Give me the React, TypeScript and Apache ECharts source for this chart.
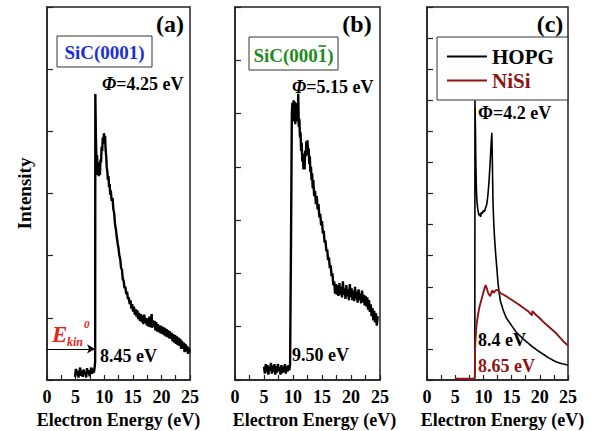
import React, { useEffect, useRef } from "react";
import * as echarts from "echarts";

const FONT = "Liberation Serif, Times New Roman, Times, serif";

// tick labels for the energy axes
const energyTicks = [0, 5, 10, 15, 20, 25];

// Panel (a) SiC(0001)
const energyA = [
  4.9, 5.05, 5.2, 5.35, 5.5, 5.65, 5.8, 5.95, 6.1, 6.25, 6.4, 6.55, 6.7, 6.85, 7.0, 7.15, 7.3, 7.45, 7.6, 7.75, 7.9, 8.05, 8.2, 8.35,
  8.42, 8.45, 8.55, 8.65, 8.75, 8.85, 8.95, 9.05, 9.15, 9.25, 9.35, 9.45, 9.55, 9.65, 9.75, 9.85, 9.95, 10.05, 10.15, 10.25, 10.35,
  10.45, 10.55, 10.65, 10.75, 10.85, 10.95, 11.05, 11.15, 11.3, 11.45, 11.6, 11.75, 11.9, 12.05, 12.2, 12.35, 12.5, 12.65, 12.8,
  12.95, 13.1, 13.25, 13.4, 13.55, 13.7, 13.85, 14.0, 14.15, 14.3, 14.45, 14.6, 14.75, 14.9, 15.05, 15.2, 15.35, 15.5, 15.65, 15.8,
  15.95, 16.1, 16.25, 16.4, 16.55, 16.7, 16.85, 17.0, 17.15, 17.3, 17.45, 17.6, 17.75, 17.9, 18.05, 18.2, 18.3, 18.35, 18.5, 18.65,
  18.8, 18.95, 19.1, 19.25, 19.4, 19.55, 19.7, 19.85, 20.0, 20.15, 20.3, 20.45, 20.6, 20.75, 20.9, 21.05, 21.2, 21.35, 21.5, 21.65,
  21.8, 21.95, 22.1, 22.25, 22.4, 22.55, 22.7, 22.85, 23.0, 23.15, 23.3, 23.45, 23.6, 23.75, 23.9, 24.05, 24.2, 24.35, 24.5, 24.65,
  24.8, 24.95,
];
const intensityA = [
  0.05, 0.18, 0.08, 0.15, 0.04, 0.12, 0.2, 0.07, 0.14, 0.05, 0.17, 0.09, 0.13, 0.04, 0.19, 0.1, 0.16, 0.06, 0.14, 0.2, 0.1, 0.18, 0.12, 0.22,
  0.3, 4.6, 3.9, 3.5, 3.62, 3.3, 3.5, 3.28, 3.45, 3.3, 3.55, 3.5, 3.75, 3.68, 3.9, 3.8, 3.97, 3.85, 3.93, 3.7, 3.6,
  3.42, 3.35, 3.22, 3.28, 3.1, 3.15, 2.98, 3.05, 2.88, 2.93, 2.75, 2.68, 2.5, 2.42, 2.3, 2.2, 2.12, 2.0, 1.95,
  1.8, 1.78, 1.62, 1.6, 1.48, 1.5, 1.38, 1.42, 1.3, 1.33, 1.22, 1.28, 1.15, 1.22, 1.1, 1.18, 1.05, 1.14, 1.02, 1.12,
  0.98, 1.08, 0.95, 1.06, 0.93, 1.04, 0.9, 1.05, 0.92, 1.0, 0.88, 0.99, 0.86, 1.02, 0.85, 0.97, 1.06, 0.84, 0.96, 0.86,
  0.95, 0.8, 0.93, 0.78, 0.9, 0.77, 0.88, 0.75, 0.87, 0.74, 0.85, 0.72, 0.84, 0.7, 0.82, 0.69, 0.8, 0.67, 0.78, 0.66,
  0.76, 0.62, 0.74, 0.6, 0.72, 0.58, 0.7, 0.56, 0.68, 0.55, 0.66, 0.5, 0.63, 0.5, 0.6, 0.45, 0.58, 0.46, 0.55, 0.42,
  0.52, 0.44,
];

// Panel (b) SiC(000-1)
const energyB = [
  5.0, 5.15, 5.3, 5.45, 5.6, 5.75, 5.9, 6.05, 6.2, 6.35, 6.5, 6.65, 6.8, 6.95, 7.1, 7.25, 7.4, 7.55, 7.7, 7.85, 8.0, 8.15, 8.3, 8.45,
  8.6, 8.75, 8.9, 9.05, 9.2, 9.35, 9.5, 9.65, 9.8, 9.9, 10.0, 10.1, 10.2, 10.3, 10.4, 10.5, 10.6, 10.7, 10.8, 10.9, 11.0, 11.1, 11.2,
  11.3, 11.4, 11.5, 11.6, 11.7, 11.8, 11.9, 12.0, 12.1, 12.2, 12.3, 12.4, 12.5, 12.6, 12.7, 12.8, 12.9, 13.0, 13.1, 13.2, 13.3, 13.4,
  13.5, 13.65, 13.8, 13.95, 14.1, 14.25, 14.4, 14.55, 14.7, 14.85, 15.0, 15.15, 15.3, 15.45, 15.6, 15.75, 15.9, 16.05, 16.2, 16.35,
  16.5, 16.65, 16.8, 16.95, 17.1, 17.25, 17.4, 17.55, 17.7, 17.85, 18.0, 18.15, 18.3, 18.45, 18.6, 18.75, 18.9, 19.05, 19.2, 19.35,
  19.5, 19.65, 19.8, 19.95, 20.1, 20.25, 20.4, 20.55, 20.7, 20.85, 21.0, 21.15, 21.3, 21.45, 21.6, 21.75, 21.9, 22.05, 22.2, 22.35,
  22.5, 22.65, 22.8, 22.95, 23.1, 23.25, 23.4, 23.55, 23.7, 23.85, 24.0, 24.15, 24.3, 24.45, 24.6,
];
const intensityB = [
  0.25, 0.12, 0.3, 0.15, 0.28, 0.1, 0.25, 0.18, 0.32, 0.12, 0.27, 0.15, 0.3, 0.1, 0.26, 0.14, 0.3, 0.17, 0.24, 0.1, 0.28, 0.13, 0.25, 0.15,
  0.3, 0.12, 0.26, 0.16, 0.28, 0.18, 0.3, 2.5, 5.0, 5.2, 4.85, 5.25, 4.9, 5.22, 4.8, 5.15, 4.9, 5.2, 4.85, 5.37, 4.75, 4.9, 4.55,
  4.65, 4.3, 4.45, 4.1, 4.25, 3.95, 4.15, 3.95, 4.3, 4.2, 4.48, 4.3, 4.5, 4.22, 4.35, 4.05, 4.2, 3.9, 4.0, 3.75, 3.88, 3.6,
  3.75, 3.45, 3.55, 3.3, 3.45, 3.2, 3.3, 3.05, 3.12, 2.9, 2.98, 2.75, 2.8, 2.58, 2.62, 2.42, 2.45, 2.25, 2.3, 2.1,
  2.15, 1.95, 2.0, 1.78, 1.85, 1.62, 1.8, 1.6, 1.78, 1.58, 1.82, 1.6, 1.75, 1.55, 1.85, 1.6, 1.72, 1.52, 1.78, 1.57,
  1.7, 1.5, 1.8, 1.56, 1.72, 1.5, 1.68, 1.48, 1.75, 1.52, 1.66, 1.45, 1.7, 1.5, 1.62, 1.44, 1.68, 1.46, 1.6, 1.4,
  1.58, 1.38, 1.55, 1.32, 1.5, 1.28, 1.42, 1.2, 1.35, 1.12, 1.3, 1.08, 1.25, 1.02, 1.2,
];

// Panel (c) HOPG
const energyHopg = [
  5.0, 8.4, 8.48, 8.5, 8.58, 8.66, 8.75, 8.85, 9.0, 9.2, 9.35, 9.5, 9.65, 9.8, 10.0, 10.2, 10.4, 10.6, 10.8, 11.0, 11.2, 11.4, 11.5,
  11.6, 11.7, 11.85, 12.0, 12.2, 12.4, 12.6, 12.8, 13.0, 13.5, 14.0, 14.5, 15.0, 15.5, 16.0, 16.5, 17.0, 17.5, 18.0, 18.5, 19.0,
  19.5, 20.0, 20.5, 21.0, 21.5, 22.0, 22.5, 23.0, 23.5, 24.0, 24.5, 25.0,
];
const intensityHopg = [
  0.04, 0.04, 0.1, 9.0, 8.2, 7.0, 6.2, 5.75, 5.5, 5.3, 5.35, 5.25, 5.4, 5.35, 5.45, 5.42, 5.55, 5.65, 5.95, 6.4, 7.0, 7.7, 7.95,
  6.9, 5.7, 5.0, 4.5, 4.0, 3.55, 3.1, 2.8, 2.55, 2.25, 2.02, 1.88, 1.75, 1.62, 1.5, 1.42, 1.33, 1.25, 1.18, 1.1, 1.03,
  0.96, 0.9, 0.84, 0.78, 0.72, 0.67, 0.62, 0.58, 0.55, 0.52, 0.5, 0.48,
];

// Panel (c) NiSi
const energyNisi = [
  5.0, 8.4, 8.48, 8.5, 8.6, 8.8, 9.0, 9.3, 9.6, 9.9, 10.2, 10.4, 10.6, 10.8, 11.0, 11.2, 11.4, 11.6, 11.8, 12.0, 12.3, 12.6, 13.0,
  13.5, 14.0, 14.5, 15.0, 15.5, 16.0, 16.5, 17.0, 17.5, 18.0, 18.4, 18.6, 18.7, 18.9, 19.3, 19.8, 20.3, 20.8, 21.3, 21.8, 22.3,
  22.8, 23.3, 23.8, 24.3, 24.8, 25.0,
];
const intensityNisi = [
  0.04, 0.04, 0.1, 0.95, 1.3, 1.8, 2.05, 2.35, 2.55, 2.75, 2.95, 3.05, 2.95, 2.82, 2.75, 2.7, 2.8, 2.88, 2.8, 2.85, 2.9, 2.88, 2.8,
  2.75, 2.7, 2.64, 2.58, 2.52, 2.46, 2.4, 2.33, 2.27, 2.2, 2.12, 2.08, 2.22, 2.17, 2.1, 2.02, 1.93, 1.84, 1.76, 1.68, 1.6,
  1.52, 1.42, 1.32, 1.22, 1.14, 1.12,
];

const zip = (xs: number[], ys: number[]) => xs.map((x, i) => [x, ys[i]]);

const AXIS_COLOR = "#222";
const NISI_COLOR = "#8e1414";

function makeX(i: number, namePadLeft: number) {
  return {
    gridIndex: i,
    type: "value",
    min: 0,
    max: 25,
    interval: 2.5,
    axisLine: { show: true, onZero: false, lineStyle: { color: AXIS_COLOR, width: 1.5 } },
    axisTick: { show: true, inside: true, length: 5, lineStyle: { color: AXIS_COLOR, width: 1.2 } },
    axisLabel: {
      show: true,
      margin: 8,
      color: "#000",
      fontFamily: FONT,
      fontSize: 18,
      fontWeight: "bold",
      showMinLabel: true,
      showMaxLabel: true,
      formatter: (v: number) => (energyTicks.indexOf(v) >= 0 ? String(v) : ""),
    },
    splitLine: { show: false },
    name: "Electron Energy (eV)",
    nameLocation: "middle",
    nameGap: 26,
    nameTextStyle: {
      color: "#000",
      fontFamily: FONT,
      fontSize: 18,
      fontWeight: "bold",
      padding: [0, 0, 0, namePadLeft],
    },
  };
}

function makeY(i: number, max: number, withName: boolean) {
  const y: any = {
    gridIndex: i,
    type: "value",
    min: 0,
    max,
    interval: 1,
    axisLine: { show: true, onZero: false, lineStyle: { color: AXIS_COLOR, width: 1.5 } },
    axisTick: { show: true, inside: true, length: 6, lineStyle: { color: AXIS_COLOR, width: 1.2 } },
    axisLabel: { show: false },
    splitLine: { show: false },
  };
  if (withName) {
    y.name = "Intensity";
    y.nameLocation = "middle";
    y.nameGap = 13;
    y.nameRotate = 90;
    y.nameTextStyle = { color: "#000", fontFamily: FONT, fontSize: 19, fontWeight: "bold" };
  }
  return y;
}

function txt(x: number, y: number, text: string, opts: any = {}) {
  return {
    type: "text",
    x,
    y,
    z: 100,
    style: {
      text,
      fontFamily: FONT,
      fontSize: opts.size || 18,
      fontWeight: "bold",
      fontStyle: opts.italic ? "italic" : "normal",
      fill: opts.color || "#000",
      align: opts.align || "left",
      verticalAlign: "middle",
      rich: opts.rich,
    },
  };
}

function box(x: number, y: number, w: number, h: number) {
  return {
    type: "rect",
    z: 100,
    shape: { x, y, width: w, height: h },
    style: { fill: "#fff", stroke: "#333", lineWidth: 1 },
  };
}

const phiRich = {
  i: { fontFamily: FONT, fontSize: 18, fontWeight: "bold", fontStyle: "italic", fill: "#000" },
  n: { fontFamily: FONT, fontSize: 18, fontWeight: "bold", fill: "#000" },
};

export default function App() {
  const ref = useRef<HTMLDivElement>(null);
  useEffect(() => {
    if (!ref.current) return;
    const chart = echarts.init(ref.current, null, { renderer: "svg" });
    const gridBase = { show: true, borderColor: AXIS_COLOR, borderWidth: 1.5, backgroundColor: "transparent", outerBoundsMode: "none" };
    const option: any = {
      animation: false,
      backgroundColor: "#fff",
      grid: [
        { ...gridBase, left: 47, top: 7, width: 143, height: 373 },
        { ...gridBase, left: 235, top: 7, width: 145, height: 373 },
        { ...gridBase, left: 427, top: 7, width: 141, height: 373 },
      ],
      xAxis: [makeX(0, 0), makeX(1, 14), makeX(2, 10)],
      yAxis: [makeY(0, 6, true), makeY(1, 7, false), makeY(2, 12, false)],
      legend: {
        show: true,
        orient: "vertical",
        left: 437,
        top: 37,
        padding: [9, 14, 9, 10],
        itemWidth: 40,
        itemHeight: 2,
        itemGap: 3,
        icon: "rect",
        borderColor: "#333",
        borderWidth: 1,
        backgroundColor: "#fff",
        selectedMode: false,
        textStyle: { fontFamily: FONT, fontSize: 21, fontWeight: "bold", color: "#000" },
        data: [
          { name: "HOPG", textStyle: { color: "#000" } },
          { name: "NiSi", textStyle: { color: NISI_COLOR } },
        ],
      },
      series: [
        {
          name: "SiC(0001)",
          type: "line",
          xAxisIndex: 0,
          yAxisIndex: 0,
          data: zip(energyA, intensityA),
          symbol: "none",
          lineStyle: { color: "#000", width: 2.4 },
          itemStyle: { color: "#000" },
          markLine: {
            silent: true,
            symbol: ["none", "arrow"],
            symbolSize: [7, 8],
            lineStyle: { color: "#000", width: 1, type: "solid" },
            label: { show: false },
            data: [[{ coord: [0, 0.5] }, { coord: [8.4, 0.5] }]],
          },
        },
        {
          name: "SiC(000-1)",
          type: "line",
          xAxisIndex: 1,
          yAxisIndex: 1,
          data: zip(energyB, intensityB),
          symbol: "none",
          lineStyle: { color: "#000", width: 2.4 },
          itemStyle: { color: "#000" },
        },
        {
          name: "HOPG",
          type: "line",
          xAxisIndex: 2,
          yAxisIndex: 2,
          data: zip(energyHopg, intensityHopg),
          symbol: "none",
          lineStyle: { color: "#000", width: 1.6 },
          itemStyle: { color: "#000" },
        },
        {
          name: "NiSi",
          type: "line",
          xAxisIndex: 2,
          yAxisIndex: 2,
          data: zip(energyNisi, intensityNisi),
          symbol: "none",
          lineStyle: { color: NISI_COLOR, width: 1.9 },
          itemStyle: { color: NISI_COLOR },
        },
      ],
      graphic: [
        txt(170, 24, "(a)", { size: 24, align: "center" }),
        txt(357, 24, "(b)", { size: 24, align: "center" }),
        txt(550, 24, "(c)", { size: 24, align: "center" }),
        box(57, 36, 95, 31),
        txt(104.5, 52, "SiC(0001)", { size: 19, align: "center", color: "#1c2fd6" }),
        box(249, 37, 89, 33),
        txt(293.5, 55, "SiC(0001)", { size: 19, align: "center", color: "#1e8a1e" }),
        {
          type: "line",
          z: 101,
          shape: { x1: 318.5, y1: 46, x2: 326, y2: 46 },
          style: { stroke: "#1e8a1e", lineWidth: 1.6 },
        },
        txt(102, 84, "{i|Φ}{n|=4.25 eV}", { rich: phiRich }),
        txt(292, 87, "{i|Φ}{n|=5.15 eV}", { rich: phiRich }),
        txt(478, 113, "Φ=4.2 eV", { size: 18 }),
        txt(100, 356, "8.45 eV", { size: 18 }),
        txt(292, 355, "9.50 eV", { size: 18 }),
        txt(478, 340, "8.4 eV", { size: 18 }),
        txt(478, 366, "8.65 eV", { size: 18, color: NISI_COLOR }),
        txt(52, 334, "E", { size: 23, italic: true, color: "#e8231c" }),
        txt(67, 342, "kin", { size: 12, italic: true, color: "#e8231c" }),
        txt(84, 324, "0", { size: 11, italic: true, color: "#e8231c" }),
      ],
    };
    chart.setOption(option);
    return () => chart.dispose();
  }, []);
  return (
    <div
      ref={ref}
      style={{ position: "absolute", left: 0, top: 0, width: 595, height: 431, background: "#fff" }}
    />
  );
}
